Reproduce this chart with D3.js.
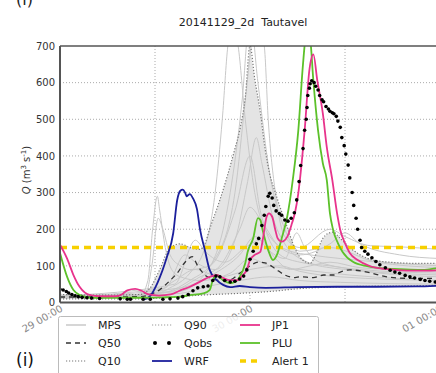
<!DOCTYPE html>
<html>
<head>
<meta charset="utf-8">
<script src="https://cdn.jsdelivr.net/npm/d3@7"></script>
<style>
  body { margin: 0; background: #fff; }
  svg { display: block; font-family: "DejaVu Sans", sans-serif; }
</style>
</head>
<body>
<svg id="chart" width="436" height="373"></svg>
<script>
// hours after 29 Nov 2014 00:00, discharge in m3/s
const jp1 = [[0,158],[0.9,120],[1.7,75],[2.5,42],[3.8,20],[5,17],[7,17],[7.8,22],[8.5,33],[9.5,37],[10.3,32],[11.2,22],[12.5,19],[14,22],[15.2,33],[16.4,43],[17.7,57],[18.9,70],[19.8,75],[20.6,67],[21.5,61],[22.4,61],[23.1,75],[23.6,89],[24,116],[24.6,130],[25.3,138],[25.6,170],[26.1,234],[26.4,243],[26.8,234],[27.2,198],[27.5,175],[28,166],[28.7,179],[29.3,216],[29.7,247],[30.1,298],[30.3,334],[30.9,469],[31.5,634],[32,677],[32.5,606],[33.2,516],[33.7,424],[34.4,334],[35,243],[35.4,198],[36,162],[36.6,135],[37.6,116],[39.2,99],[41.3,91],[43.8,87],[46.4,87],[48,88]];

const plu = [[0,135],[0.9,70],[1.7,34],[2.5,20],[3.8,13],[6,13],[10,13],[13,14],[15.2,16],[16.4,20],[18.1,25],[18.9,34],[19.3,61],[19.8,75],[20.6,61],[21.5,53],[22.1,56],[22.7,70],[23.4,107],[23.7,138],[24.4,175],[25,230],[25.3,225],[25.6,197],[26.3,143],[26.9,116],[27.4,130],[28,175],[28.7,234],[29.4,334],[30.1,469],[30.7,652],[31,720],[31.3,740],[31.6,720],[32,606],[32.6,469],[33.2,380],[33.7,334],[34.1,243],[34.5,198],[35.1,162],[35.7,138],[37,111],[38.8,99],[40.8,93],[42.9,91],[45.5,89],[47.5,93],[48,94]];

const wrf = [[10.6,8],[11.4,18],[12.3,53],[13.5,124],[14.3,189],[14.8,279],[15.2,305],[15.5,308],[15.8,300],[16,290],[16.4,296],[16.8,284],[17.3,255],[17.7,198],[18.3,143],[18.9,89],[19.8,61],[20.6,48],[21.5,42],[22.7,45],[24,42],[26,40],[30,42],[35,43],[40,43],[45,44],[48,46]];

const qobs = [[0,36],[0.4,34],[0.8,30],[1.1,26],[1.5,22],[1.9,18],[2.3,16],[2.8,14],[3.4,13],[4,12],[5,11],[7.6,10],[8.5,9],[8.9,9],[10.5,9],[11.4,9],[13,9],[13.9,10],[14.9,12],[15.5,16],[16.2,22],[16.8,32],[17.4,40],[18.1,43],[18.7,45],[19.3,60],[19.7,72],[20.2,70],[20.8,60],[21.5,56],[22.1,58],[22.7,64],[23.2,72],[23.6,89],[24,118],[24.4,140],[24.8,160],[25.1,175],[25.5,210],[25.8,238],[26,262],[26.3,290],[26.5,298],[26.8,285],[27,265],[27.3,250],[27.7,243],[28,238],[28.4,225],[28.8,222],[29.2,230],[29.6,245],[29.9,280],[30.2,330],[30.4,374],[30.7,420],[30.9,470],[31.1,500],[31.2,532],[31.3,565],[31.5,585],[31.6,597],[31.8,605],[32.1,600],[32.3,590],[32.6,580],[32.8,565],[33.1,553],[33.3,548],[33.6,535],[33.9,528],[34.1,522],[34.4,518],[34.6,515],[34.9,508],[35.1,495],[35.4,478],[35.6,450],[35.9,428],[36.1,405],[36.4,375],[36.6,340],[36.9,300],[37.1,265],[37.4,230],[37.6,200],[37.9,170],[38.1,150],[38.5,140],[38.9,132],[39.4,122],[39.9,112],[40.4,103],[41.1,95],[41.7,88],[42.3,83],[42.9,80],[43.6,74],[44.2,70],[44.8,67],[45.5,63],[46.1,60],[46.7,58],[47.4,56]];

const q90 = [[0,22],[5,20],[10.1,22],[11.4,40],[12.6,90],[13.9,150],[15.2,160],[16.4,150],[17.7,145],[18.3,160],[18.9,200],[20.2,280],[21.2,350],[22.1,420],[22.7,470],[23.4,560],[24,700],[24.6,610],[25.3,520],[25.9,420],[26.5,350],[27.2,300],[27.8,260],[28.7,206],[29.4,162],[30.3,124],[31.6,107],[32.3,130],[33.2,175],[33.9,189],[34.5,192],[35.4,175],[36.6,150],[37.9,130],[39.5,116],[41.7,110],[44.6,107],[48,107]];

const q50 = [[0,15],[5,15],[10.1,16],[11.4,22],[12.6,35],[13.9,60],[14.8,80],[15.8,110],[16.7,125],[17.4,100],[18.3,75],[19.2,65],[20.2,60],[21.5,62],[22.7,80],[24,100],[25,110],[25.9,108],[27.2,92],[28.4,75],[29.7,68],[30.3,70],[32,68],[33.3,75],[34.5,75],[35.4,83],[36.6,89],[38.8,83],[41.3,70],[44.2,66],[48,66]];

const q10 = [[0,10],[10,10],[13.9,14],[17.7,20],[22.7,25],[26.5,30],[30.3,38],[34.1,42],[37.9,44],[42.9,45],[48,47]];

const mps = [
  [[0,18],[10.1,18],[11.1,60],[11.7,200],[12.3,290],[12.6,250],[13.3,150],[14.1,90],[15.2,70],[17.7,60],[21.5,80],[24,120],[26.5,100],[30.3,90],[36.6,75],[48,60]],
  [[0,15],[10.7,15],[11.6,100],[12.4,230],[13,200],[13.9,130],[15.2,100],[16.4,90],[18.9,100],[22.1,250],[24,400],[25.3,250],[27.8,130],[30.3,110],[34.1,100],[40.4,80],[48,70]],
  [[0,15],[11.4,20],[13.9,40],[16.4,80],[18.3,150],[19.6,300],[20.5,500],[21.2,700],[21.7,760],[22.5,700],[23.4,500],[24.6,300],[26.5,180],[29.1,140],[31.6,130],[35.4,120],[48,100]],
  [[0,16],[12.6,25],[16.4,60],[19.6,120],[22.1,300],[23.4,550],[24.3,720],[25,760],[25.8,700],[26.3,500],[27.2,300],[28.4,180],[30.3,150],[34.1,200],[36,180],[39.2,155],[42.9,152],[48,145]],
  [[0,14],[13.9,30],[17.7,70],[20.2,100],[22.7,200],[24,260],[25.5,220],[27.8,150],[30.3,130],[34.1,160],[36,190],[37.9,160],[42.9,130],[48,120]],
  [[0,18],[14.5,50],[17.1,170],[18.3,140],[20.8,110],[23.4,150],[25.3,170],[27.2,120],[29.1,90],[31.6,100],[34.1,110],[37.9,95],[48,85]],
  [[0,12],[15.2,25],[18.9,45],[22.7,60],[26.5,70],[30.3,60],[35.4,55],[48,50]],
  [[0,15],[15.2,40],[19.6,80],[22.7,130],[24.6,180],[26.5,140],[28.4,120],[29.9,190],[30.9,150],[32.8,110],[37.9,90],[48,80]],
  [[0,16],[13.3,40],[15.8,130],[17.1,110],[19.6,90],[22.1,170],[23.7,330],[24.8,450],[25.5,380],[26.8,240],[28.4,160],[30.3,120],[34.1,95],[48,75]],
  [[0,20],[11.4,20],[14.5,60],[17.1,90],[20.2,70],[24,90],[27.8,100],[30.3,85],[35.4,70],[48,60]],
  [[0,15],[15,30],[19,100],[21.5,300],[23,550],[24,780],[25,600],[26.5,350],[28.4,200],[30.3,140],[34,150],[40,110],[48,95]]
];

const alert1 = 150;
const yTicks = [0, 100, 200, 300, 400, 500, 600, 700];

const t0 = new Date(2014, 10, 29, 0, 0);
const toDate = h => new Date(t0.getTime() + h * 3600e3);

const pLeft = 60, pTop = 46, pRight = 440, pBottom = 302.5;
const svg = d3.select("#chart");

const x = d3.scaleTime().domain([t0, toDate(48)]).range([pLeft, pRight]);
const y = d3.scaleLinear().domain([0, 700]).range([pBottom, pTop]);

svg.append("defs").append("clipPath").attr("id", "plotclip")
  .append("rect").attr("x", pLeft).attr("y", pTop)
  .attr("width", pRight - pLeft).attr("height", pBottom - pTop);

// grid
const grid = svg.append("g").attr("stroke", "#aaa").attr("stroke-width", 1)
  .attr("stroke-dasharray", "1,2");
grid.selectAll("line.h").data(yTicks.slice(1, -1)).enter().append("line")
  .attr("x1", pLeft).attr("x2", pRight)
  .attr("y1", d => y(d)).attr("y2", d => y(d));
grid.selectAll("line.v").data(x.ticks(d3.timeHour.every(12)).slice(1, -1)).enter().append("line")
  .attr("y1", pTop).attr("y2", pBottom)
  .attr("x1", d => x(d)).attr("x2", d => x(d));

const plot = svg.append("g").attr("clip-path", "url(#plotclip)");

const line = d3.line()
  .curve(d3.curveMonotoneX)
  .x(d => x(toDate(d[0])))
  .y(d => y(d[1]));

// shaded band between Q10 and Q90
const hours = d3.range(0, 48.01, 0.1);
const interp = (s, h) => {
  const i = d3.bisector(d => d[0]).right(s, h);
  if (i <= 0) return s[0][1];
  if (i >= s.length) return s[s.length - 1][1];
  const a = s[i - 1], b = s[i];
  return a[1] + (b[1] - a[1]) * (h - a[0]) / (b[0] - a[0]);
};
plot.append("path")
  .datum(hours)
  .attr("fill", "#e4e4e4")
  .attr("d", d3.area()
    .x(h => x(toDate(h)))
    .y0(h => y(interp(q10, h)))
    .y1(h => y(interp(q90, h))));

// ensemble members
plot.append("g").selectAll("path").data(mps).enter().append("path")
  .attr("d", line)
  .attr("fill", "none")
  .attr("stroke", "#c8c8c8")
  .attr("stroke-width", 1);

plot.append("path").datum(q10).attr("d", line).attr("fill", "none")
  .attr("stroke", "#777").attr("stroke-width", 1.2).attr("stroke-dasharray", "1.2,1.8");
plot.append("path").datum(q90).attr("d", line).attr("fill", "none")
  .attr("stroke", "#777").attr("stroke-width", 1.2).attr("stroke-dasharray", "1.2,1.8");
plot.append("path").datum(q50).attr("d", line).attr("fill", "none")
  .attr("stroke", "#333").attr("stroke-width", 1.3).attr("stroke-dasharray", "5,4");

// alert threshold
plot.append("line")
  .attr("x1", pLeft).attr("x2", pRight)
  .attr("y1", y(alert1)).attr("y2", y(alert1))
  .attr("stroke", "#f7d000").attr("stroke-width", 3.5)
  .attr("stroke-dasharray", "7,5");

const models = [
  { data: wrf, color: "#1b1f9c" },
  { data: plu, color: "#5cc12a" },
  { data: jp1, color: "#e8338c" }
];
models.forEach(m => {
  plot.append("path").datum(m.data).attr("d", line)
    .attr("fill", "none").attr("stroke", m.color).attr("stroke-width", 1.8);
});

plot.append("g").selectAll("circle").data(qobs).enter().append("circle")
  .attr("cx", d => x(toDate(d[0])))
  .attr("cy", d => y(d[1]))
  .attr("r", 1.8)
  .attr("fill", "#000");

// axes
const yAxis = svg.append("g").attr("transform", `translate(${pLeft},0)`)
  .call(d3.axisLeft(y).tickValues(yTicks).tickSize(0).tickPadding(5));
yAxis.select(".domain").remove();
yAxis.selectAll("text").attr("font-size", 10).attr("fill", "#333")
  .attr("font-family", "DejaVu Sans, sans-serif");

const xAxis = svg.append("g").attr("transform", `translate(0,${pBottom})`)
  .call(d3.axisBottom(x).ticks(d3.timeDay.every(1)).tickSize(0)
    .tickFormat(d3.timeFormat("%d %H:%M")));
xAxis.select(".domain").remove();
xAxis.selectAll("text")
  .attr("font-size", 10).attr("fill", "#888")
  .attr("font-family", "DejaVu Sans, sans-serif")
  .attr("text-anchor", "end")
  .attr("dy", null).attr("y", 0)
  .attr("transform", "translate(3,8) rotate(-30)");

// spines
const spine = svg.append("g").attr("stroke", "#555").attr("fill", "none");
spine.append("line").attr("x1", pLeft).attr("x2", pLeft).attr("y1", pTop).attr("y2", pBottom).attr("stroke-width", 2);
spine.append("line").attr("x1", pLeft).attr("x2", pRight).attr("y1", pTop).attr("y2", pTop).attr("stroke-width", 1.5);
spine.append("line").attr("x1", pLeft).attr("x2", pRight).attr("y1", pBottom).attr("y2", pBottom).attr("stroke-width", 2);

// y label
const yl = svg.append("text")
  .attr("transform", "translate(30,170) rotate(-90)")
  .attr("text-anchor", "middle")
  .attr("font-size", 10)
  .attr("fill", "#333");
yl.append("tspan").attr("font-style", "italic").text("Q");
yl.append("tspan").text(" (m");
yl.append("tspan").attr("font-size", 7).attr("dy", -4).text("3");
yl.append("tspan").attr("dy", 4).text(" s");
yl.append("tspan").attr("font-size", 7).attr("dy", -4).text("-1");
yl.append("tspan").attr("dy", 4).text(")");

// title and panel marks
svg.append("text").attr("x", 243).attr("y", 26)
  .attr("text-anchor", "middle").attr("font-size", 11).attr("fill", "#222")
  .style("white-space", "pre")
  .text("20141129_2d  Tautavel");
svg.append("text").attr("x", 16).attr("y", 5).attr("font-size", 16).attr("fill", "#222").text("(i)");
svg.append("text").attr("x", 16).attr("y", 366).attr("font-size", 17).attr("fill", "#111").text("(i)");

// legend
const legendItems = [
  { label: "MPS", kind: "line", color: "#c8c8c8", dash: null, width: 1.5 },
  { label: "Q50", kind: "line", color: "#333", dash: "5,4", width: 1.3 },
  { label: "Q10", kind: "line", color: "#777", dash: "1.2,1.8", width: 1.2 },
  { label: "Q90", kind: "line", color: "#999", dash: "1.2,1.8", width: 1.2 },
  { label: "Qobs", kind: "dots", color: "#000" },
  { label: "WRF", kind: "line", color: "#1b1f9c", dash: null, width: 1.8 },
  { label: "JP1", kind: "line", color: "#e8338c", dash: null, width: 1.8 },
  { label: "PLU", kind: "line", color: "#5cc12a", dash: null, width: 1.8 },
  { label: "Alert 1", kind: "line", color: "#f7d000", dash: "6,5", width: 3.5 }
];
const lg = svg.append("g");
lg.append("rect").attr("x", 58.5).attr("y", 316.5).attr("width", 260).attr("height", 60)
  .attr("rx", 2).attr("fill", "#fff").attr("fill-opacity", 0.85)
  .attr("stroke", "#bbb").attr("stroke-width", 1);
const colX = [66, 152, 240];
const rowY = [325, 343, 361];
legendItems.forEach((it, i) => {
  const cx = colX[Math.floor(i / 3)], cy = rowY[i % 3];
  if (it.kind === "dots") {
    lg.append("circle").attr("cx", cx + 3).attr("cy", cy).attr("r", 2).attr("fill", it.color);
    lg.append("circle").attr("cx", cx + 17).attr("cy", cy).attr("r", 2).attr("fill", it.color);
  } else {
    lg.append("line").attr("x1", cx).attr("x2", cx + 20).attr("y1", cy).attr("y2", cy)
      .attr("stroke", it.color).attr("stroke-width", it.width)
      .attr("stroke-dasharray", it.dash);
  }
  lg.append("text").attr("x", cx + 32).attr("y", cy + 4)
    .attr("font-size", 11).attr("fill", "#222").text(it.label);
});
</script>
</body>
</html>
